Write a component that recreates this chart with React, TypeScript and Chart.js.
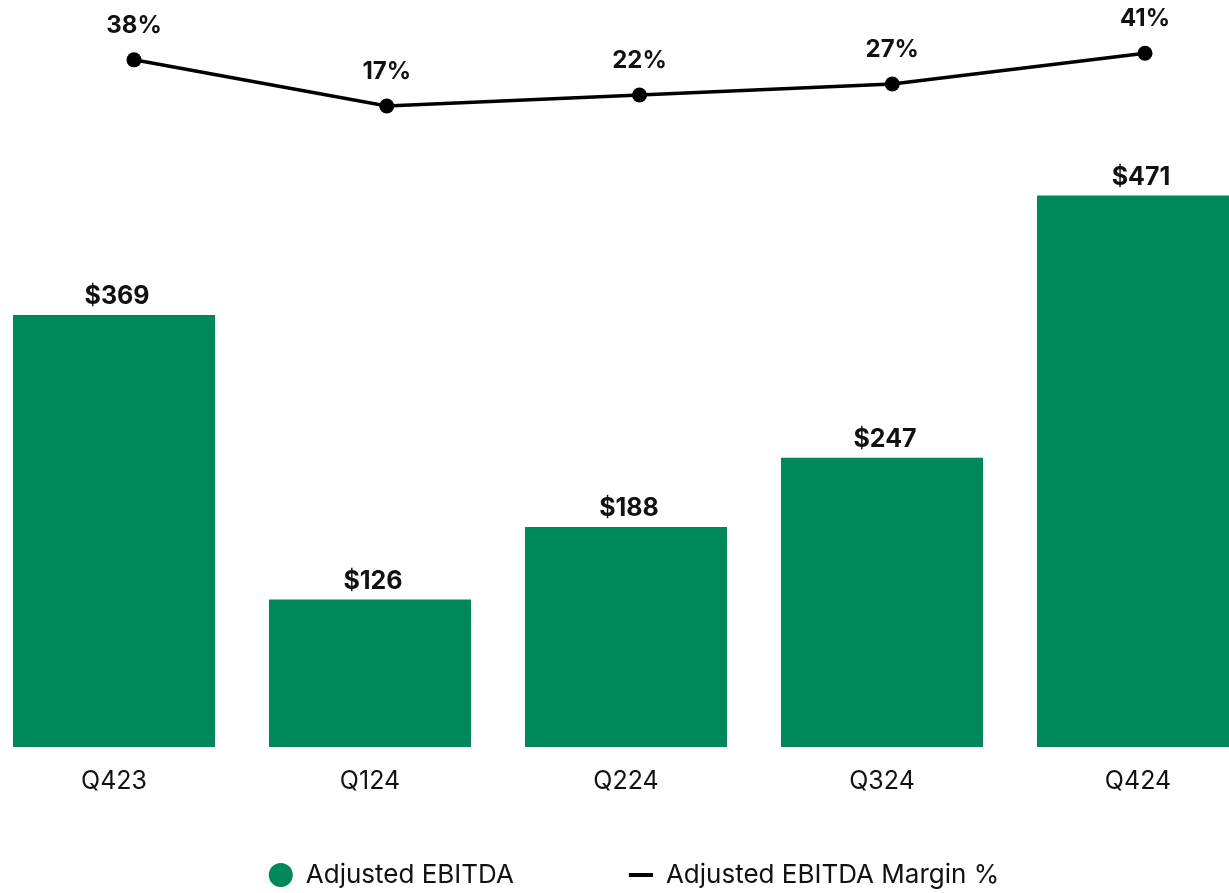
import React, { useEffect, useRef } from "react";
import { Chart, registerables } from "chart.js";

Chart.register(...registerables);

const categories = ["Q423", "Q124", "Q224", "Q324", "Q424"];
const ebitda = [369, 126, 188, 247, 471];
const marginPct = [38, 17, 22, 27, 41];

const GREEN = "#00885A";
const INK = "#111111";
const FONT = "Inter, 'Noto Sans', sans-serif";

const labelPlugin = {
  id: "valueLabels",
  afterDatasetsDraw(chart: any) {
    const ctx = chart.ctx;
    ctx.save();
    ctx.fillStyle = INK;
    ctx.textAlign = "center";
    ctx.textBaseline = "middle";
    const barMeta = chart.getDatasetMeta(0);
    ctx.font = `700 25px ${FONT}`;
    barMeta.data.forEach((el: any, i: number) => {
      ctx.fillText("$" + ebitda[i], el.x + 3, el.y - 18);
    });
    const lineMeta = chart.getDatasetMeta(1);
    ctx.font = `700 24px ${FONT}`;
    lineMeta.data.forEach((el: any, i: number) => {
      ctx.fillText(marginPct[i] + "%", el.x, el.y - 34);
    });
    ctx.restore();
  },
};

export default function App() {
  const ref = useRef<HTMLCanvasElement>(null);
  useEffect(() => {
    document.body.style.margin = "0";
    const chart = new Chart(ref.current as HTMLCanvasElement, {
      type: "bar",
      data: {
        labels: categories,
        datasets: [
          {
            type: "bar",
            label: "Adjusted EBITDA",
            data: ebitda,
            backgroundColor: GREEN,
            borderWidth: 0,
            grouped: false,
            categoryPercentage: 1,
            barPercentage: 0.789,
            xAxisID: "x",
            yAxisID: "y",
            order: 2,
          } as any,
          {
            type: "line",
            label: "Adjusted EBITDA Margin %",
            data: marginPct.map((v, i) => ({ x: i, y: v })),
            borderColor: "#000",
            backgroundColor: "#000",
            borderWidth: 3.5,
            pointRadius: 7.5,
            pointBackgroundColor: "#000",
            pointBorderWidth: 0,
            tension: 0,
            xAxisID: "xl",
            yAxisID: "y2",
            order: 1,
          } as any,
        ],
      },
      options: {
        responsive: false,
        animation: false,
        layout: { padding: 0, autoPadding: false },
        scales: {
          x: {
            type: "category",
            position: { y: 0 },
            offset: true,
            grid: { display: false, drawTicks: false },
            border: { display: false },
            ticks: {
              color: INK,
              font: { family: FONT, size: 25 },
              padding: 19,
              autoSkip: false,
              maxRotation: 0,
            },
          } as any,
          xl: {
            type: "linear",
            display: false,
            offset: false,
            bounds: "data",
            min: -0.5856,
            max: 4.4787,
          },
          y: {
            display: false,
            min: 0,
            max: 638,
          },
          y2: {
            display: true,
            position: "right",
            min: -274.4,
            max: 65.2,
            ticks: { display: false },
            grid: { display: false, drawTicks: false },
            border: { display: false },
            afterFit: (s: any) => {
              s.width = 16;
            },
          },
        },
        plugins: {
          tooltip: { enabled: false },
          legend: {
            position: "bottom",
            labels: {
              usePointStyle: true,
              boxWidth: 24,
              boxHeight: 17,
              padding: 115,
              color: INK,
              font: { family: FONT, size: 26 },
              generateLabels: () => [
                {
                  text: "Adjusted EBITDA",
                  fillStyle: GREEN,
                  strokeStyle: GREEN,
                  lineWidth: 0,
                  pointStyle: "circle",
                  hidden: false,
                  datasetIndex: 0,
                  fontColor: INK,
                } as any,
                {
                  text: "Adjusted EBITDA Margin %",
                  fillStyle: "#000",
                  strokeStyle: "#000",
                  lineWidth: 4,
                  pointStyle: "line",
                  hidden: false,
                  datasetIndex: 1,
                  fontColor: INK,
                } as any,
              ],
            },
          },
        },
      },
      plugins: [labelPlugin],
    });
    return () => chart.destroy();
  }, []);

  return (
    <div style={{ position: "relative", width: 1229, height: 893, overflow: "hidden", background: "#fff" }}>
      <canvas
        ref={ref}
        width={1296}
        height={898}
        style={{ position: "absolute", left: -14, top: 0, display: "block" }}
      />
    </div>
  );
}
